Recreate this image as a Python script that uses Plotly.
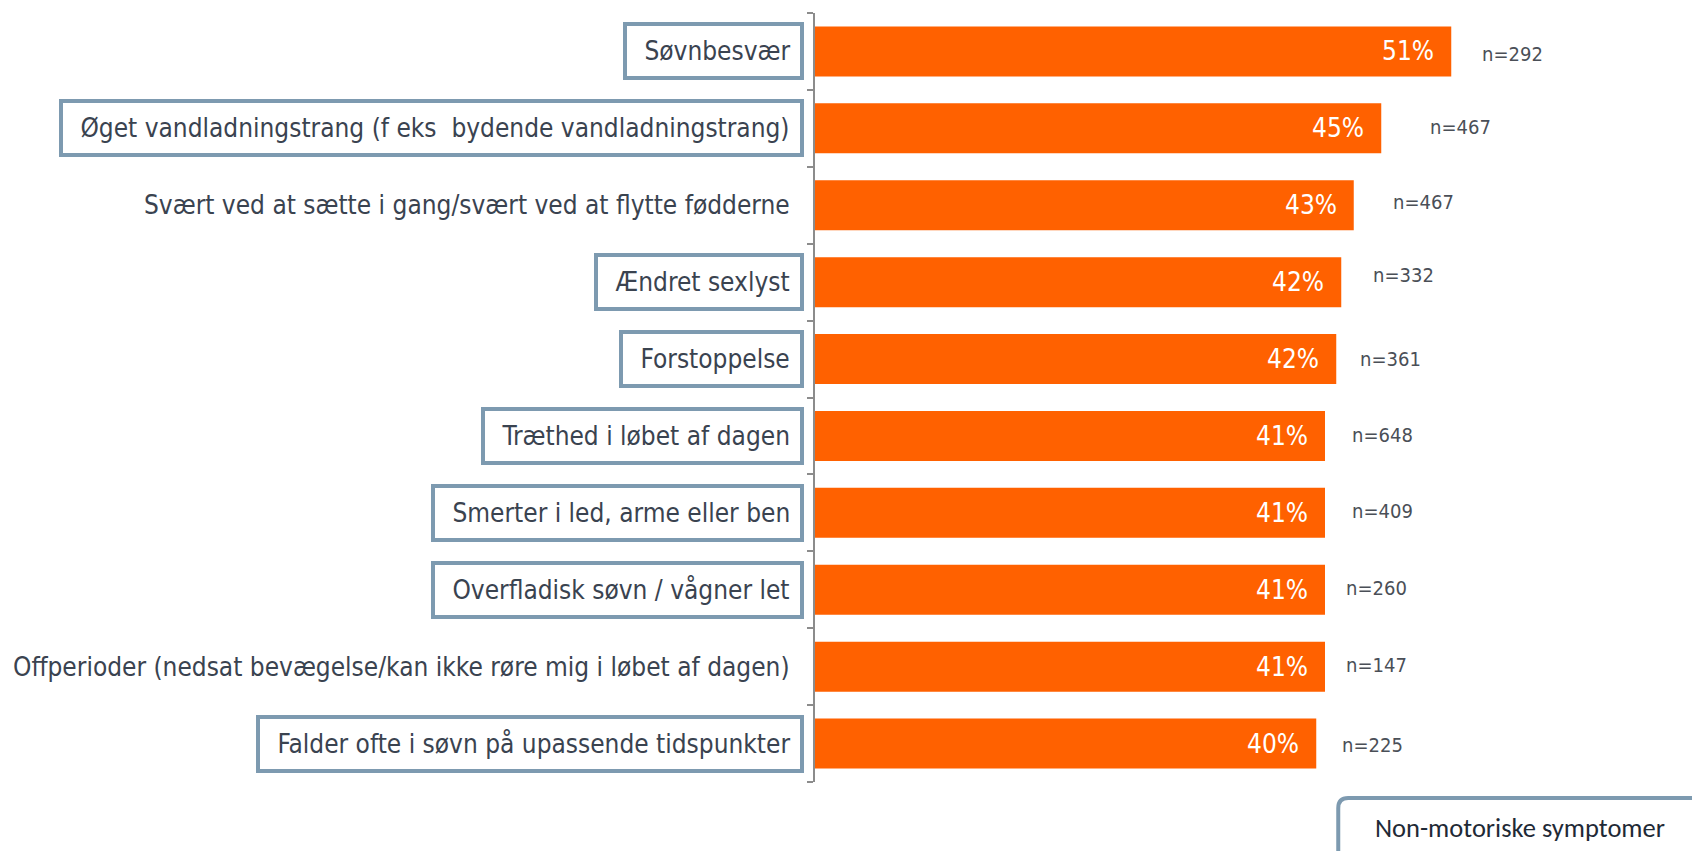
import plotly.graph_objects as go

categories = [
    "Søvnbesvær",
    "Øget vandladningstrang (f eks\u00a0 bydende vandladningstrang)",
    "Svært ved at sætte i gang/svært ved at flytte fødderne",
    "Ændret sexlyst",
    "Forstoppelse",
    "Træthed i løbet af dagen",
    "Smerter i led, arme eller ben",
    "Overfladisk søvn / vågner let",
    "Offperioder (nedsat bevægelse/kan ikke røre mig i løbet af dagen)",
    "Falder ofte i søvn på upassende tidspunkter",
]
values = [50.9, 45.3, 43.1, 42.1, 41.7, 40.8, 40.8, 40.8, 40.8, 40.1]
n_labels = ["n=292", "n=467", "n=467", "n=332", "n=361", "n=648", "n=409", "n=260", "n=147", "n=225"]
boxed = [True, True, False, True, True, True, True, True, False, True]
legend_text = "Non-motoriske symptomer"

# label placement offsets (pixels) for the n= labels, as in the original slide
n_xshift = [29, 47, 37, 30, 22, 25, 25, 19, 19, 24]
n_yshift = [-3, 1, 3, 7, 0, 1, 2, 2, 2, -1]

ORANGE = "#FF6100"
BOX = "#7D9AB0"
TXT = "#3A4350"
FONT = "Liberation Sans Narrow, DejaVu Sans Condensed, Arial Narrow, sans-serif"

ypos = list(range(len(categories)))

fig = go.Figure(go.Bar(
    x=values, y=ypos, orientation="h",
    marker=dict(color=ORANGE, line=dict(width=0)),
    width=0.65, hoverinfo="skip",
))

ann = []
for i, (cat, v, n, b) in enumerate(zip(categories, values, n_labels, boxed)):
    ann.append(dict(
        xref="paper", yref="y", x=0, y=i, xanchor="right", yanchor="middle",
        xshift=-11, text=("\u00a0" + cat) if b else cat, showarrow=False,
        font=dict(family=FONT, size=26, color=TXT),
        bordercolor=BOX if b else "rgba(0,0,0,0)", borderwidth=4, borderpad=10,
        bgcolor="white" if b else "rgba(0,0,0,0)",
    ))
    ann.append(dict(
        xref="x", yref="y", x=v, y=i, xanchor="right", yanchor="middle",
        xshift=-15, text=f"{round(v)}%", showarrow=False,
        font=dict(family=FONT, size=26, color="white"),
    ))
    ann.append(dict(
        xref="x", yref="y", x=v, y=i, xanchor="left", yanchor="middle",
        xshift=n_xshift[i], yshift=n_yshift[i], text=n, showarrow=False,
        font=dict(family=FONT, size=20, color="#4a4f57"),
    ))

ann.append(dict(
    xref="paper", yref="paper", x=0.806, y=-0.06, xanchor="center", yanchor="middle",
    text=legend_text, showarrow=False,
    font=dict(family="Carlito, Lato, Open Sans, sans-serif", size=26.5, color="#1f2a36"),
))

shapes = [dict(
    type="path", xref="paper", yref="paper",
    path="M 0.598,-0.3 L 0.598,-0.034 Q 0.598,-0.0208 0.6094,-0.0208 L 1.2,-0.0208",
    line=dict(color=BOX, width=4),
)]

fig.update_layout(
    width=1692, height=851,
    margin=dict(l=815, r=2, t=13, b=69),
    plot_bgcolor="white", paper_bgcolor="white",
    showlegend=False,
    annotations=ann, shapes=shapes,
    xaxis=dict(range=[0, 70], visible=False, fixedrange=True),
    yaxis=dict(
        range=[len(categories) - 0.5, -0.5],
        showticklabels=False, showgrid=False, zeroline=False,
        showline=True, linecolor="#8c8c8c", linewidth=1.5,
        ticks="outside", ticklen=6, tickcolor="#8c8c8c", tickwidth=1.5,
        tickvals=[i - 0.5 for i in range(len(categories) + 1)],
        fixedrange=True,
    ),
)

fig.write_html(
    "out.html",
    config={"displayModeBar": False},
    post_script="document.body.style.margin='0';document.body.style.overflow='hidden';",
)
